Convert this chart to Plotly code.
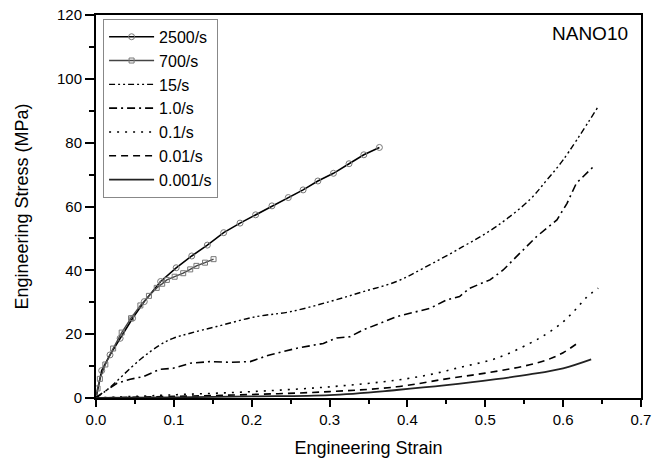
import plotly.graph_objects as go

# ---- data ----
x_2500 = [0, 0.0073, 0.018, 0.031, 0.047, 0.062, 0.083, 0.103, 0.123, 0.143, 0.164, 0.185, 0.205, 0.226, 0.247, 0.266, 0.285, 0.305, 0.325, 0.344, 0.364]
y_2500 = [0, 8.6, 13.5, 18.7, 25.0, 30.2, 36.5, 40.8, 44.5, 47.9, 51.8, 54.8, 57.4, 60.2, 62.8, 65.2, 68.0, 70.4, 73.4, 76.2, 78.5]

x_700 = [0, 0.002, 0.005, 0.012, 0.022, 0.033, 0.045, 0.057, 0.068, 0.078, 0.085, 0.091, 0.101, 0.112, 0.121, 0.129, 0.140, 0.151]
y_700 = [0, 3.0, 6.0, 10.5, 15.5, 20.5, 25.0, 29.0, 32.0, 34.5, 35.8, 37.0, 38.0, 39.1, 40.3, 41.4, 42.4, 43.5]

x_15 = [0, 0.014, 0.056, 0.082, 0.099, 0.121, 0.155, 0.206, 0.249, 0.30, 0.343, 0.386, 0.42, 0.471, 0.514, 0.557, 0.579, 0.60, 0.645]
y_15 = [0, 2.5, 11.9, 16.6, 18.7, 20.3, 22.4, 25.5, 27.0, 30.2, 33.3, 36.5, 40.6, 47.4, 53.7, 62.1, 68.3, 74.6, 91.3]

x_1 = [0, 0.001, 0.027, 0.044, 0.061, 0.082, 0.099, 0.121, 0.146, 0.172, 0.198, 0.223, 0.258, 0.292, 0.309, 0.326, 0.343, 0.386, 0.429, 0.45, 0.467, 0.48, 0.506, 0.523, 0.54, 0.566, 0.592, 0.605, 0.617, 0.641]
y_1 = [0, 0.4, 4.6, 5.9, 6.7, 9.0, 9.3, 10.9, 11.4, 11.2, 11.4, 13.5, 15.6, 17.1, 18.8, 19.2, 21.3, 25.5, 28.1, 30.7, 31.8, 34.4, 37.0, 40.1, 44.3, 50.6, 55.8, 61.0, 67.3, 73.0]

x_01 = [0, 0.1, 0.2, 0.30, 0.386, 0.43, 0.471, 0.514, 0.557, 0.58, 0.60, 0.615, 0.63, 0.645]
y_01 = [0, 1.0, 2.0, 3.5, 5.6, 7.4, 9.8, 12.4, 17.1, 20.3, 23.9, 27.5, 31.5, 34.4]

x_001 = [0, 0.1, 0.2, 0.30, 0.386, 0.45, 0.5, 0.55, 0.58, 0.60, 0.618]
y_001 = [0, 0.5, 1.1, 2.0, 3.5, 6.0, 7.8, 10.0, 12.0, 14.2, 17.1]

x_0001 = [0, 0.1, 0.2, 0.30, 0.386, 0.45, 0.514, 0.557, 0.60, 0.636]
y_0001 = [0, 0.2, 0.5, 0.9, 2.5, 4.0, 5.9, 7.4, 9.3, 12.1]

x_ticks = [0.0, 0.1, 0.2, 0.3, 0.4, 0.5, 0.6, 0.7]
y_ticks = [0, 20, 40, 60, 80, 100, 120]

FONT = "Liberation Sans, Arial, sans-serif"

fig = go.Figure()
fig.add_trace(go.Scatter(x=x_2500, y=y_2500, name="2500/s", mode="lines+markers",
                         line=dict(color="black", width=1.6),
                         marker=dict(symbol="circle-open", size=6, color="#777777", line=dict(width=1))))
fig.add_trace(go.Scatter(x=x_700, y=y_700, name="700/s", mode="lines+markers",
                         line=dict(color="#444444", width=1.4),
                         marker=dict(symbol="square-open", size=5, color="#777777", line=dict(width=1))))
fig.add_trace(go.Scatter(x=x_15, y=y_15, name="15/s", mode="lines", line_shape="spline",
                         line=dict(color="black", width=1.4, dash="6px,3px,2px,3px,2px,3px")))
fig.add_trace(go.Scatter(x=x_1, y=y_1, name="1.0/s", mode="lines",
                         line=dict(color="black", width=1.6, dash="8px,4px,2px,4px")))
fig.add_trace(go.Scatter(x=x_01, y=y_01, name="0.1/s", mode="lines", line_shape="spline",
                         line=dict(color="black", width=1.6, dash="2px,6px")))
fig.add_trace(go.Scatter(x=x_001, y=y_001, name="0.01/s", mode="lines", line_shape="spline",
                         line=dict(color="black", width=1.6, dash="7px,5px")))
fig.add_trace(go.Scatter(x=x_0001, y=y_0001, name="0.001/s", mode="lines", line_shape="spline",
                         line=dict(color="#222222", width=1.8)))

fig.update_layout(
    width=652, height=461,
    margin=dict(l=96, r=11, t=15, b=63),
    paper_bgcolor="white", plot_bgcolor="white",
    font=dict(family=FONT, size=15, color="black"),
    showlegend=True,
    legend=dict(x=0.013, y=0.99, xanchor="left", yanchor="top",
                bordercolor="#888888", borderwidth=1, bgcolor="white",
                font=dict(family=FONT, size=16), tracegroupgap=0,
                itemwidth=45),
    xaxis=dict(range=[0, 0.7], tickvals=x_ticks, tickformat=".1f", automargin=False,
               showgrid=False, zeroline=False, showline=True, linecolor="black", linewidth=2,
               mirror=True, ticks="outside", ticklen=7, tickwidth=1.5, tickcolor="black",
               minor=dict(dtick=0.05, tick0=0, ticks="outside", ticklen=4, tickwidth=1.5, tickcolor="black"),
               title=dict(text="Engineering Strain", font=dict(family=FONT, size=18), standoff=14),
               tickfont=dict(family=FONT, size=15)),
    yaxis=dict(range=[0, 120], tickvals=y_ticks, automargin=False,
               showgrid=False, zeroline=False, showline=True, linecolor="black", linewidth=2,
               mirror=True, ticks="outside", ticklen=9, tickwidth=1.5, tickcolor="black",
               minor=dict(dtick=10, tick0=0, ticks="outside", ticklen=5, tickwidth=1.5, tickcolor="black"),
               title=dict(text="Engineering Stress (MPa)", font=dict(family=FONT, size=18), standoff=24),
               tickfont=dict(family=FONT, size=15)),
    annotations=[dict(text="NANO10", x=0.98, y=0.953, xref="paper", yref="paper",
                      xanchor="right", yanchor="middle", showarrow=False,
                      font=dict(family=FONT, size=19))],
)

fig.write_html("out.html")
